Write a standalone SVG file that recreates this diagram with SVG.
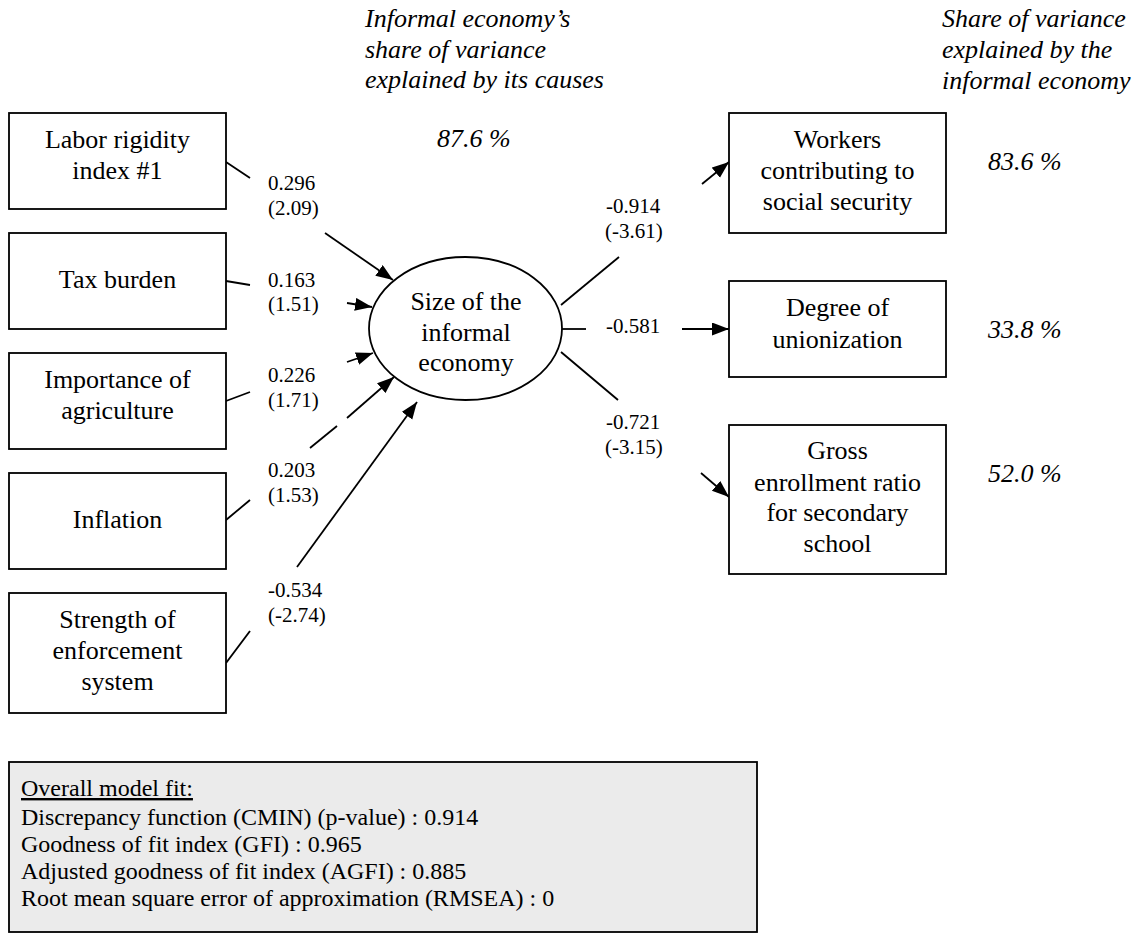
<svg xmlns="http://www.w3.org/2000/svg" width="1141" height="951" viewBox="0 0 1141 951">
<style>
.box{fill:#fff;stroke:#000;stroke-width:1.8}
.t{font-family:"Liberation Serif","Times New Roman",serif;font-size:26px;fill:#000;text-anchor:middle}
.it{font-family:"Liberation Serif","Times New Roman",serif;font-size:26px;font-style:italic;fill:#000}
.lb{font-family:"Liberation Serif","Times New Roman",serif;font-size:21px;fill:#000}
.ft{font-family:"Liberation Serif","Times New Roman",serif;font-size:24px;fill:#000}
.c line{stroke:#000;stroke-width:1.8}
.a{marker-end:url(#ah)}
</style>
<defs>
<marker id="ah" markerUnits="userSpaceOnUse" markerWidth="18" markerHeight="14" refX="17" refY="6.5" orient="auto">
<path d="M0,0 L17,6.5 L0,13 z" fill="#000"/>
</marker>
</defs>
<rect width="1141" height="951" fill="#fff"/>

<g id="headers">
<text class="it" x="365" y="27">Informal economy’s</text>
<text class="it" x="365" y="58">share of variance</text>
<text class="it" x="365" y="88">explained by its causes</text>
<text class="it" x="437" y="147">87.6 %</text>
<text class="it" x="942" y="27">Share of variance</text>
<text class="it" x="942" y="58">explained by the</text>
<text class="it" x="942" y="89">informal economy</text>
<text class="it" x="988" y="170">83.6 %</text>
<text class="it" x="988" y="338">33.8 %</text>
<text class="it" x="988" y="482">52.0 %</text>
</g>

<g id="connectors" class="c">
<line x1="226" y1="162" x2="250" y2="178"/>
<line class="a" x1="325" y1="233" x2="393" y2="280"/>
<line x1="226" y1="281" x2="250" y2="285"/>
<line class="a" x1="347" y1="303" x2="372" y2="307"/>
<line x1="226" y1="401" x2="250" y2="392"/>
<line class="a" x1="347" y1="362" x2="373" y2="353"/>
<line x1="226" y1="520" x2="250" y2="500"/>
<line x1="310" y1="448" x2="337" y2="426"/>
<line class="a" x1="347" y1="418" x2="394" y2="377"/>
<line x1="226" y1="663" x2="250" y2="631"/>
<line class="a" x1="297" y1="567" x2="417" y2="402"/>
<line x1="561" y1="305" x2="619" y2="257"/>
<line class="a" x1="702" y1="184" x2="729" y2="162"/>
<line x1="562" y1="329" x2="586" y2="329"/>
<line class="a" x1="682" y1="329" x2="729" y2="329"/>
<line x1="561" y1="352" x2="618" y2="400"/>
<line class="a" x1="701" y1="473" x2="729" y2="497"/>
</g>

<g id="labels">
<text class="lb" x="268" y="190">0.296</text>
<text class="lb" x="268" y="215">(2.09)</text>
<text class="lb" x="268" y="287">0.163</text>
<text class="lb" x="268" y="311">(1.51)</text>
<text class="lb" x="268" y="382">0.226</text>
<text class="lb" x="268" y="407">(1.71)</text>
<text class="lb" x="268" y="477">0.203</text>
<text class="lb" x="268" y="502">(1.53)</text>
<text class="lb" x="268" y="597">-0.534</text>
<text class="lb" x="268" y="622">(-2.74)</text>
<text class="lb" x="606" y="213">-0.914</text>
<text class="lb" x="605" y="238">(-3.61)</text>
<text class="lb" x="606" y="333">-0.581</text>
<text class="lb" x="606" y="429">-0.721</text>
<text class="lb" x="605" y="454">(-3.15)</text>
</g>

<g id="labor">
<rect class="box" x="9" y="113" width="217" height="96"/>
<text class="t" x="117.5" y="148">Labor rigidity</text>
<text class="t" x="117.5" y="179">index #1</text>
</g>
<g id="tax">
<rect class="box" x="9" y="233" width="217" height="96"/>
<text class="t" x="117.5" y="288">Tax burden</text>
</g>
<g id="agri">
<rect class="box" x="9" y="353" width="217" height="96"/>
<text class="t" x="117.5" y="388">Importance of</text>
<text class="t" x="117.5" y="419">agriculture</text>
</g>
<g id="inflation">
<rect class="box" x="9" y="473" width="217" height="96"/>
<text class="t" x="117.5" y="528">Inflation</text>
</g>
<g id="enforcement">
<rect class="box" x="9" y="593" width="217" height="120"/>
<text class="t" x="117.5" y="628">Strength of</text>
<text class="t" x="117.5" y="659">enforcement</text>
<text class="t" x="117.5" y="690">system</text>
</g>

<g id="informal">
<ellipse cx="465.5" cy="328.5" rx="96.5" ry="71.5" fill="#fff" stroke="#000" stroke-width="1.8"/>
<text class="t" x="466" y="310">Size of the</text>
<text class="t" x="466" y="341">informal</text>
<text class="t" x="466" y="371">economy</text>
</g>

<g id="workers">
<rect class="box" x="729" y="113" width="217" height="120"/>
<text class="t" x="837.5" y="148">Workers</text>
<text class="t" x="837.5" y="179">contributing to</text>
<text class="t" x="837.5" y="210">social security</text>
</g>
<g id="union">
<rect class="box" x="729" y="281" width="217" height="96"/>
<text class="t" x="837.5" y="316">Degree of</text>
<text class="t" x="837.5" y="348">unionization</text>
</g>
<g id="enroll">
<rect class="box" x="729" y="425" width="217" height="149"/>
<text class="t" x="837.5" y="459">Gross</text>
<text class="t" x="837.5" y="491">enrollment ratio</text>
<text class="t" x="837.5" y="521">for secondary</text>
<text class="t" x="837.5" y="552">school</text>
</g>

<g id="fit">
<rect x="9" y="762" width="748" height="170" fill="#ebebeb" stroke="#000" stroke-width="1.8"/>
<text class="ft" x="21" y="796" text-decoration="underline">Overall model fit:</text>
<text class="ft" x="21" y="825">Discrepancy function (CMIN) (p-value) : 0.914</text>
<text class="ft" x="21" y="852">Goodness of fit index (GFI) : 0.965</text>
<text class="ft" x="21" y="879">Adjusted goodness of fit index (AGFI) : 0.885</text>
<text class="ft" x="21" y="906">Root mean square error of approximation (RMSEA) : 0</text>
</g>
</svg>
